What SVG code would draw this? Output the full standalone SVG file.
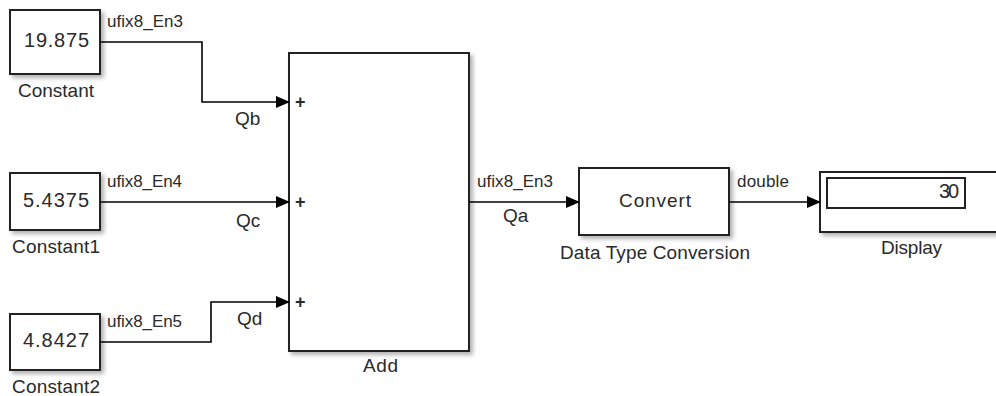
<svg xmlns="http://www.w3.org/2000/svg" width="996" height="396" viewBox="0 0 996 396">
<defs>
<filter id="sh" x="-10%" y="-10%" width="130%" height="130%">
<feDropShadow dx="3" dy="3" stdDeviation="2" flood-color="#000" flood-opacity="0.3"/>
</filter>
<marker id="ar" markerWidth="14" markerHeight="12" refX="13" refY="6" orient="auto" markerUnits="userSpaceOnUse">
<path d="M0,0 L14,6 L0,12 Z" fill="#000"/>
</marker>
</defs>
<style>
.blk{fill:#fff;stroke:#222;stroke-width:2;filter:url(#sh)}
.in{fill:#fff;stroke:#222;stroke-width:2}
.ln{fill:none;stroke:#000;stroke-width:1.6;marker-end:url(#ar)}
text{font-family:"Liberation Sans",Arial,sans-serif;font-size:19px;fill:#2a2a2a}
.sm{font-size:17px}
.num{font-size:20px}
.pl{font-size:18px;font-weight:bold}
</style>
<rect width="996" height="396" fill="#fff"/>
<g id="constant">
<rect class="blk" x="10" y="10" width="90" height="64"/>
<text class="num" x="24" y="47" textLength="65" lengthAdjust="spacing">19.875</text>
<text x="18" y="97" textLength="76" lengthAdjust="spacing">Constant</text>
</g>
<g id="constant1">
<rect class="blk" x="10" y="173" width="90" height="57"/>
<text class="num" x="23" y="207" textLength="66" lengthAdjust="spacing">5.4375</text>
<text x="12" y="253" textLength="88" lengthAdjust="spacing">Constant1</text>
</g>
<g id="constant2">
<rect class="blk" x="10" y="314" width="90" height="56"/>
<text class="num" x="23" y="347" textLength="66" lengthAdjust="spacing">4.8427</text>
<text x="12" y="393" textLength="88" lengthAdjust="spacing">Constant2</text>
</g>
<g id="add">
<rect class="blk" x="289" y="53" width="180" height="298"/>
<text class="pl" x="295" y="108">+</text>
<text class="pl" x="295" y="208">+</text>
<text class="pl" x="295" y="308">+</text>
<text x="363" y="372" textLength="35" lengthAdjust="spacing">Add</text>
</g>
<g id="convert">
<rect class="blk" x="579" y="168" width="150" height="67"/>
<text x="619" y="207" textLength="72" lengthAdjust="spacing">Convert</text>
<text x="560" y="259" textLength="190" lengthAdjust="spacing">Data Type Conversion</text>
</g>
<g id="display">
<rect class="blk" x="820" y="172" width="185" height="60"/>
<rect class="in" x="827" y="178" width="138" height="30"/>
<text class="num" x="939" y="198" textLength="20" lengthAdjust="spacing">30</text>
<text x="881" y="254" textLength="61" lengthAdjust="spacing">Display</text>
</g>
<g id="connectors">
<path class="ln" d="M100,42 H202 V102 H289"/>
<path class="ln" d="M100,202 H289"/>
<path class="ln" d="M100,342 H211 V302 H289"/>
<path class="ln" d="M469,202 H579"/>
<path class="ln" d="M729,202 H820"/>
<text class="sm" x="107" y="27" textLength="76" lengthAdjust="spacing">ufix8_En3</text>
<text x="235" y="125">Qb</text>
<text class="sm" x="107" y="187" textLength="75" lengthAdjust="spacing">ufix8_En4</text>
<text x="236" y="227">Qc</text>
<text class="sm" x="107" y="327" textLength="75" lengthAdjust="spacing">ufix8_En5</text>
<text x="237" y="325">Qd</text>
<text class="sm" x="477" y="187" textLength="76" lengthAdjust="spacing">ufix8_En3</text>
<text x="503" y="222">Qa</text>
<text class="sm" x="737" y="187" textLength="52" lengthAdjust="spacing">double</text>
</g>
</svg>
